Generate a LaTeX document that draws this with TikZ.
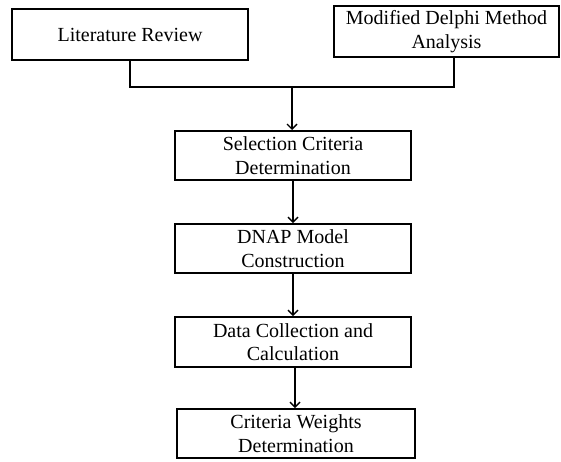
\documentclass[tikz,border=0pt]{standalone}
\usepackage{fontspec}
\setmainfont{Liberation Serif}
\usetikzlibrary{arrows.meta}
\begin{document}
\begin{tikzpicture}[x=1pt,y=1pt,
  box/.style={draw, line width=2pt, align=center, inner sep=0pt,
    font=\fontsize{20}{23.5}\selectfont},
  link/.style={line width=1.4pt},
  arr/.style={link, -{Straight Barb[length=5pt,width=10pt,line width=1.4pt]}}]
\useasboundingbox (0,0) rectangle (561,-461);
\node[box, minimum width=236, minimum height=51] (lit) at (130,-34.5) {Literature Review};
\node[box, minimum width=225, minimum height=51] (del) at (446.5,-31.5) {Modified Delphi Method\\Analysis};
\node[box, minimum width=236, minimum height=49] (sel) at (293,-155.5) {Selection Criteria\\Determination};
\node[box, minimum width=236, minimum height=49] (dnap) at (293,-248.5) {DNAP Model\\Construction};
\node[box, minimum width=236, minimum height=50] (data) at (293,-342) {Data Collection and\\Calculation};
\node[box, minimum width=238, minimum height=49] (crit) at (296,-433.5) {Criteria Weights\\Determination};
\coordinate (j) at (292,-87);
\draw[link] (lit.south) |- (j);
\draw[link] ([xshift=7.5]del.south) |- (j);
\draw[arr] (j) -- (j |- sel.north);
\draw[arr] (sel.south) -- (sel.south |- dnap.north);
\draw[arr] (dnap.south) -- (dnap.south |- data.north);
\draw[arr] ([xshift=2]data.south) -- ([xshift=2]data.south |- crit.north);
\end{tikzpicture}
\end{document}
